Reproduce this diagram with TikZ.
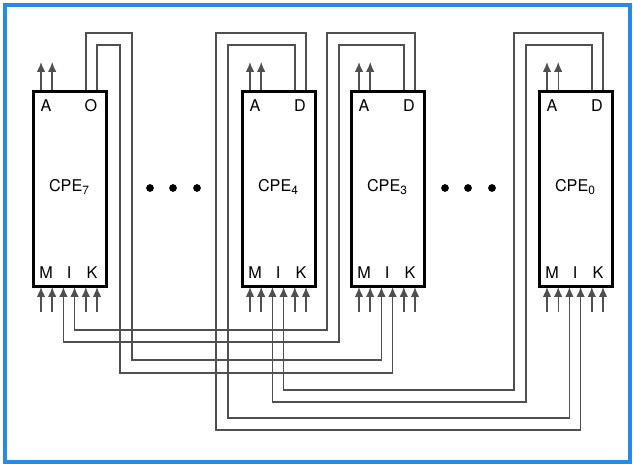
\documentclass[tikz,border=0pt]{standalone}
\usepackage{fontspec}
\setmainfont{TeX Gyre Heros}
\usetikzlibrary{arrows.meta, calc, positioning}
\definecolor{frameblue}{RGB}{35,140,235}
\definecolor{wiregray}{RGB}{80,80,80}

\begin{document}
\begin{tikzpicture}[x=0.025cm, y=-0.025cm,
  font=\fontsize{11.5}{13}\selectfont,
  every node/.style={font=\fontsize{11.5}{13}\selectfont},
  cpebox/.style={draw=black, line width=1.9pt, minimum width=1.825cm,
                 minimum height=4.875cm, anchor=north west, inner sep=0pt},
  wire/.style={draw=wiregray, line width=1pt,
               -{Latex[length=7pt, width=6pt]}},
  bigdot/.style={circle, fill=black, inner sep=0pt, minimum size=5.5pt}]
\useasboundingbox (0,0) rectangle (633,464);
\draw[frameblue, line width=2.6pt] (5,5) rectangle (630,462);

% processing elements
\foreach \n/\l/\d in {7/32/O, 4/241/D, 3/350/D, 0/538/D}{
  \node[cpebox] (cpe\n) at (\l,90) {};
  \node (cpe\n-a) at (\l+14,106) {A};
  \node (cpe\n-d) at (\l+59,106) {\d};
  \node (cpe\n-m) at (\l+14,273) {M};
  \node (cpe\n-i) at (\l+37,273) {I};
  \node (cpe\n-k) at (\l+60,273) {K};
  \node (cpe\n-name) at (\l+37,187)
        {CPE\raisebox{-0.45ex}{\fontsize{8.5}{9}\selectfont\n}};
  \foreach \k in {1,...,6}{
    \coordinate (cpe\n-t\k) at ({\l+9+(\k-1)*11.2},90);
    \coordinate (cpe\n-b\k) at ({\l+9+(\k-1)*11.2},287);
    \coordinate (cpe\n-s\k) at ({\l+9+(\k-1)*11.2},312);
  }
  \coordinate (cpe\n-o1) at ({\l+9},62);
  \coordinate (cpe\n-o2) at ({\l+20.2},62);
  \draw[wire] (cpe\n-t1) -- (cpe\n-o1);
  \draw[wire] (cpe\n-t2) -- (cpe\n-o2);
  \foreach \k in {1,2,5,6}
    \draw[wire] (cpe\n-s\k) -- (cpe\n-b\k);
}

% ellipsis dots
\node[bigdot] (gap1a) at (150,188) {};
\node[bigdot] (gap1b) at (173,188) {};
\node[bigdot] (gap1c) at (197,188) {};
\node[bigdot] (gap2a) at (445,188) {};
\node[bigdot] (gap2b) at (468,188) {};
\node[bigdot] (gap2c) at (492,188) {};

% D outputs back to I inputs
\draw[wire] (cpe7-t5) |- (132,33) |- (cpe3-b3 |- 0,360) -- (cpe3-b3);
\draw[wire] (cpe7-t6) |- (120,45) |- (cpe3-b4 |- 0,373) -- (cpe3-b4);
\draw[wire] (cpe3-t6) |- (327,33) |- (cpe7-b4 |- 0,330) -- (cpe7-b4);
\draw[wire] (cpe3-t5) |- (339,45) |- (cpe7-b3 |- 0,342) -- (cpe7-b3);
\draw[wire] (cpe4-t6) |- (216,33) |- (cpe0-b4 |- 0,430) -- (cpe0-b4);
\draw[wire] (cpe4-t5) |- (228,45) |- (cpe0-b3 |- 0,418) -- (cpe0-b3);
\draw[wire] (cpe0-t6) |- (514,33) |- (cpe4-b4 |- 0,390) -- (cpe4-b4);
\draw[wire] (cpe0-t5) |- (526,45) |- (cpe4-b3 |- 0,402) -- (cpe4-b3);
\end{tikzpicture}
\end{document}
